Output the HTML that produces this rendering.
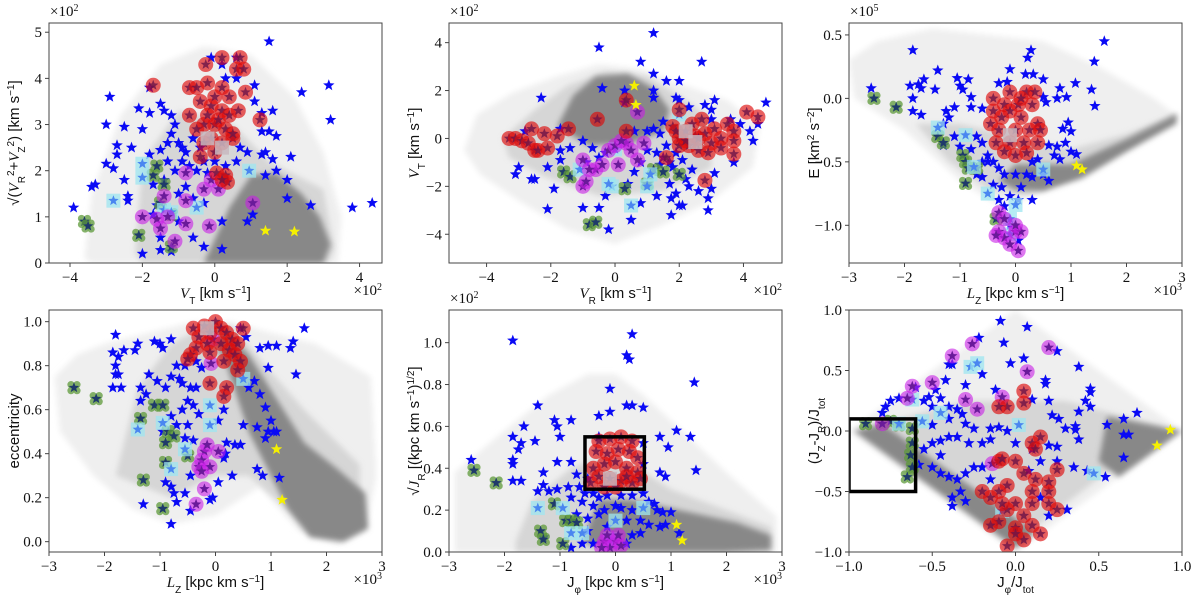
<!DOCTYPE html>
<html><head><meta charset="utf-8"><style>
html,body{margin:0;padding:0;background:#fff;}
svg{display:block;}
text{font-family:"Liberation Serif",serif;fill:#111;}
.s{font-family:"Liberation Sans",sans-serif;}
</style></head><body>
<svg id="fig" width="1200" height="595" viewBox="0 0 1200 595" xmlns="http://www.w3.org/2000/svg">
<defs><filter id="blur" x="-10%" y="-10%" width="120%" height="120%"><feGaussianBlur stdDeviation="3"/></filter></defs>
</svg>
<script>
// ---------- DATA ----------
// Panel 1: VT vs sqrt(VR^2+VZ^2)  (units of 100 km/s)
const p1Halo=[[-3.6,0.1],[-3.4,1.5],[-2.6,3.2],[-1.5,4.3],[-0.3,4.7],[1,4.5],[2.2,3.6],[3,2.4],[3.5,1],[3.4,0],[-3.4,0]];
const p1Mid=[[-2.2,0.2],[-2.0,2.2],[-1,3.3],[0.5,3.0],[1.5,2.2],[3,1.6],[3.3,0.3],[3.1,0],[-2,0]];
const p1Core=[[-0.3,0],[0.4,1.2],[1.0,1.9],[1.7,1.95],[2.4,1.5],[2.9,1.0],[3.2,0.4],[3.0,0]];
const p1Core2=[];
const p1Blue=[[1.5,4.8],[-2.9,3.6],[-3,3.0],[-2.5,2.95],[-2.1,3.35],[-1.8,3.25],[-1.5,3.45],[-1.4,3.3],[-2.0,2.9],[-2.7,2.55],[-2.7,2.35],[-2.3,2.5],[-3.0,2.15],[-2.8,2.05],[-2.5,1.8],[-3.3,1.7],[-3.4,1.65],[-2.4,1.45],[-2.4,1.35],[-3.9,1.2],[-1.2,3.2],[-1.1,3.0],[-1.2,2.8],[-1.0,2.6],[-0.9,2.5],[-1.5,2.45],[-1.8,2.35],[-1.3,2.2],[-0.9,2.2],[-0.7,2.1],[-1.1,2.0],[-0.5,2.0],[-0.3,2.2],[0.3,2.1],[0.6,2.2],[-1.4,1.8],[-1.7,1.7],[-0.8,1.65],[-1.0,1.5],[-0.6,1.4],[-0.3,1.3],[-1.6,1.25],[-1.7,1.05],[-1.0,0.9],[-0.6,0.55],[-1.5,0.55],[-1.5,0.28],[-2.0,0.2],[-1.2,0.25],[-0.3,0.35],[0.2,0.3],[0.2,0.9],[0.9,0.9],[1.05,1.05],[0.7,2.5],[0.9,2.4],[1.3,2.35],[1.4,2.4],[1.6,2.25],[1.7,2.0],[1.4,1.9],[2.0,1.8],[2.1,2.3],[2.0,1.4],[1.3,2.85],[1.5,2.85],[1.7,2.75],[1.6,3.3],[1.3,3.25],[1.1,3.5],[1.1,3.85],[0.6,4.45],[0.2,4.3],[-0.1,4.45],[0.3,4.0],[0.6,4.0],[2.4,3.7],[3.15,3.85],[3.2,3.1],[2.65,1.25],[3.8,1.2],[4.35,1.3],[-1.8,3.8],[-0.8,2.4],[-0.4,2.5],[-0.6,2.7],[-1.3,2.6],[0.0,2.2],[-0.2,1.95]];
const p1Red=[[-0.7,3.8],[-0.5,3.8],[-0.2,3.9],[0.2,3.8],[0.4,3.6],[-0.4,3.5],[-0.1,3.4],[0.2,3.3],[0.4,3.2],[-0.3,3.0],[0,3.0],[0.3,2.9],[-0.5,2.9],[-0.1,2.7],[0.2,2.6],[0.5,2.7],[-0.3,2.6],[0,3.6],[0.1,3.1],[-0.2,3.2],[-0.25,4.3],[0.2,4.45],[0.7,4.45],[0.6,4.2],[0.8,4.2],[-1.7,3.85],[0.85,3.7],[0.65,3.3],[1.25,3.1],[-0.7,3.2],[0.05,1.95],[0.3,1.9],[0.35,1.75],[0.2,1.8],[0.5,2.8],[-0.4,2.3],[0,2.4]];
const p1Mag=[[-0.8,1.95],[-0.1,1.8],[-0.3,1.6],[0.1,1.6],[-1.4,1.45],[-0.8,1.35],[1.05,1.3],[-2.0,1.0],[-1.6,0.95],[-1.5,0.75],[-0.8,0.85],[-0.15,0.8],[-1.1,0.47],[-1.3,1.0]];
const p1Green=[[-1.7,1.9],[-1.6,2.1],[-1.4,1.7],[-3.6,0.9],[-3.5,0.8],[-2.1,0.6],[-1.2,0.35],[-1.5,1.3],[-1.2,1.05]];
const p1Cyan=[[-2.0,2.15],[-2.0,1.85],[-2.8,1.35],[-1.4,1.15],[-1.2,1.1],[-0.5,1.2],[0.95,2.0]];
const p1Light=[[-0.2,2.7],[0.2,2.5]];
const p1Yellow=[[1.4,0.7],[2.2,0.68]];

// Panel 2: VR vs VT (units of 100 km/s)
const p2Halo=[[-4.7,-0.5],[-4.3,1.0],[-3.2,1.9],[-1.8,2.6],[-0.5,3.1],[0.8,2.9],[2,2.3],[3.5,1.6],[4.5,0.5],[4.3,-1.2],[3,-2.6],[1.5,-3.6],[0,-4.4],[-1.5,-3.8],[-3,-2.6],[-4.2,-1.5]];
const p2Mid=[[-3.5,0],[-2.5,1.2],[-1.5,2.2],[-0.3,2.8],[1,2.6],[2,1.8],[3,0.8],[3,-1.2],[1.5,-2.2],[-0.5,-2.4],[-2.2,-1.6],[-3.3,-0.8]];
const p2Core=[[-1.8,0.5],[-1.3,1.8],[-0.6,2.6],[0.4,2.7],[1.2,2.1],[1.7,1.2],[1.5,0.3],[0.5,-0.2],[-0.8,-0.3]];
const p2Core2=[];
const p2Blue=[[1.2,4.4],[-0.5,3.8],[0.8,3.2],[2.7,3.2],[1.2,2.7],[-0.4,2.1],[0.3,2.0],[1.2,2.0],[-2.3,1.7],[1.2,1.7],[0.3,1.5],[1.6,2.4],[2.0,2.4],[1.9,1.7],[2.0,1.6],[2.3,1.3],[2.8,1.4],[3.0,1.2],[3.1,1.6],[3.0,0.8],[3.6,0.8],[3.9,0.6],[4.2,0.3],[4.3,-0.1],[4.45,0.6],[4.7,1.5],[3.7,-1.0],[3.1,-1.45],[3.0,-2.1],[2.9,-2.5],[2.9,-3.0],[2.6,-2.2],[2.3,-2.0],[1.9,-2.3],[2.0,-2.8],[1.75,-2.5],[1.75,-3.2],[2.1,-2.8],[1.3,-2.4],[0.8,-2.7],[0.5,-3.4],[-0.2,-3.8],[-0.3,-2.4],[-0.5,-2.9],[-1.0,-2.9],[-2.1,-2.95],[-1.9,-2.1],[-2.5,-1.7],[-2.6,-1.7],[-3.0,-1.2],[-3.1,-1.5],[-2.1,-1.2],[-1.7,-0.9],[-1.7,-0.5],[-1.4,-0.4],[-1.0,-0.1],[-0.7,-0.4],[-0.5,-0.8],[-0.3,-0.6],[-0.9,-1.0],[0.6,-1.4],[0.4,-1.9],[1.0,-0.5],[1.3,-0.6],[1.5,-0.8],[1.7,-1.0],[1.8,-1.2],[1.6,-0.3],[1.4,0.2],[1.2,0.4],[1.5,0.7],[2.2,-1.7],[1.7,-1.9],[1.0,0.3],[0.6,0.3],[0.8,-1.0],[2.4,-1.3],[-1.7,0.4],[-2.8,0.3],[1.9,-0.6],[2.1,-0.9],[1.4,-1.1]];
const p2Red=[[-3.3,0],[-3.1,0],[-2.9,-0.1],[-2.7,-0.2],[-2.5,-0.5],[-2.4,-0.5],[-2.6,0.4],[-2.2,0.2],[-2.1,-0.4],[-1.8,0.1],[-1.45,0.4],[-0.55,0.8],[0.35,1.6],[0.35,0.3],[1.8,0.5],[2.0,0.0],[2.2,0.3],[2.3,-0.3],[2.5,0.1],[2.6,-0.5],[2.7,0.8],[2.8,0.2],[3.0,-0.2],[3.1,0.4],[3.3,0.0],[3.5,0.6],[3.7,0.3],[3.7,-0.1],[3.7,-0.65],[2.9,-0.6],[2.0,1.2],[2.0,-0.3],[2.4,0.6],[4.1,1.1],[4.45,0.9],[2.8,-1.75],[1.6,-0.8],[3.3,-0.4],[1.9,0.3],[2.6,0.0],[2.2,-0.1]];
const p2Mag=[[-1.0,-0.9],[-0.6,-1.3],[-0.4,-1.1],[-0.2,-0.5],[0.0,-0.3],[0.1,-1.1],[0.35,-0.2],[0.5,-0.5],[0.7,-0.9],[0.9,-0.2],[0.7,1.1],[-0.8,-1.3],[-1.0,-2.0],[-0.9,-1.8],[0.2,-0.1]];
const p2Green=[[-1.6,-1.4],[-1.4,-1.6],[-0.8,-3.6],[-0.6,-3.5],[0.3,-2.1],[1.0,-1.9],[1.5,-1.4],[2.0,-1.5],[1.2,-1.3]];
const p2Cyan=[[-1.1,-1.3],[0.0,-0.45],[-0.1,-2.0],[0.5,-2.8],[1.1,-1.5],[1.0,-2.0],[2.0,1.0],[2.5,-0.2],[-0.2,-1.9]];
const p2Light=[[2.2,0.3],[2.5,-0.15]];
const p2Yellow=[[0.6,2.2],[0.65,1.4]];

// Panel 3: Lz (1e3) vs E (1e5)
const p3Halo=[[-3,0.3],[-2.5,0.45],[-1.5,0.55],[-0.5,0.5],[0.5,0.45],[1.5,0.25],[2.5,0.0],[2.95,-0.15],[2.0,-0.3],[1.0,-0.6],[0.3,-0.78],[-0.3,-0.85],[-1.0,-0.65],[-2.0,-0.25],[-2.9,0.0]];
const p3Mid=[[-1.8,-0.2],[-1.0,-0.2],[0,-0.3],[1,-0.4],[2,-0.28],[2.9,-0.13],[2.0,-0.38],[1.0,-0.62],[0.2,-0.76],[-0.5,-0.72],[-1.2,-0.5]];
const p3Core=[[0.0,-0.52],[1.0,-0.52],[2.0,-0.32],[2.9,-0.12],[2.9,-0.2],[2.0,-0.42],[1.2,-0.63],[0.5,-0.73],[0,-0.72],[-0.3,-0.65]];
const p3Core2=[];
const p3Blue=[[1.6,0.45],[-1.85,0.38],[0.28,0.38],[0.22,0.32],[1.42,0.29],[-1.4,0.22],[-0.1,0.23],[0.18,0.19],[0.32,0.19],[-1.05,0.16],[-0.85,0.15],[-1.65,0.15],[-0.3,0.12],[-0.15,0.13],[0.5,0.15],[1.08,0.12],[-1.9,0.1],[-1.75,0.11],[-1.7,0.08],[-1.45,0.07],[-1.0,0.1],[-0.95,0.07],[0.8,0.08],[1.37,0.07],[-2.6,0.08],[-1.85,0.0],[-0.8,0.01],[0.5,0.01],[0.55,-0.03],[0.92,0.01],[0.75,0.0],[-1.85,-0.1],[-1.7,-0.13],[-1.25,-0.1],[-1.1,-0.07],[-0.8,-0.07],[-0.6,-0.08],[1.43,-0.06],[-1.2,-0.15],[-1.3,-0.2],[-1.1,-0.3],[-1.3,-0.37],[-1.0,-0.38],[-0.7,-0.3],[-0.6,-0.35],[-0.5,-0.45],[-0.8,-0.4],[-0.5,-0.5],[-0.3,-0.55],[-0.6,-0.62],[-0.4,-0.68],[-0.25,-0.7],[-0.3,-0.8],[-0.2,-0.85],[-0.1,-0.77],[0.05,-0.8],[0.3,-0.8],[0.1,-0.7],[0.3,-0.62],[0.5,-0.6],[0.6,-0.65],[0.7,-0.45],[0.8,-0.48],[0.6,-0.37],[0.9,-0.35],[0.75,-0.38],[1.0,-0.42],[1.1,-0.44],[0.85,-0.24],[0.95,-0.19],[1.0,-0.26],[-0.2,-0.6],[0.2,-0.6],[0.0,-0.6],[-0.1,-1.0],[0.05,-1.12],[0.4,-0.48],[0.3,-0.5],[-0.4,-0.5],[-0.6,-0.5],[-0.7,-0.6]];
const p3Red=[[-0.4,0],[-0.2,-0.05],[0.2,0.05],[0.35,0.05],[0.3,-0.05],[-0.4,-0.1],[-0.1,-0.1],[0.1,-0.15],[0.4,-0.2],[-0.45,-0.2],[-0.3,-0.25],[0,-0.25],[0.25,-0.25],[0.45,-0.25],[-0.35,-0.35],[-0.1,-0.35],[0.15,-0.35],[0.4,-0.35],[-0.2,-0.42],[0.0,-0.45],[0.2,-0.43],[-0.1,0.05],[0.05,-0.05],[-0.25,-0.15],[0.1,0.0]];
const p3Mag=[[-0.3,-0.9],[-0.2,-0.95],[-0.3,-1.05],[0.0,-1.05],[0.1,-1.05],[-0.2,-1.1],[0.0,-1.0],[0.05,-1.2],[-0.1,-1.15],[-0.35,-1.08]];
const p3Green=[[-2.55,0.0],[-2.15,-0.07],[-1.4,-0.3],[-1.3,-0.35],[-0.95,-0.45],[-0.9,-0.5],[-0.85,-0.55],[-0.9,-0.67],[-0.35,-0.95],[-0.7,-0.55]];
const p3Cyan=[[-1.4,-0.23],[-0.9,-0.29],[-0.75,-0.54],[0.5,-0.56],[-0.5,-0.75],[0.0,-0.84],[-0.1,-0.95],[-0.1,-1.07]];
const p3Light=[[-0.1,-0.29]];
const p3Yellow=[[1.1,-0.53],[1.2,-0.56]];

// Panel 4: Lz (1e3) vs eccentricity
const p4Halo=[[-2.9,0.75],[-2.5,0.85],[-2,0.9],[-1.2,0.95],[-0.4,1.0],[0.3,1.0],[1,0.95],[1.8,0.9],[2.8,0.75],[2.9,0.3],[2.7,0.05],[2.2,-0.01],[1.5,0.05],[0.8,0.25],[0,0.12],[-0.8,0.08],[-1.5,0.15],[-2.2,0.3],[-2.8,0.5]];
const p4Mid=[[-1.8,0.3],[-1.4,0.7],[-0.8,0.9],[-0.2,0.98],[0.3,0.98],[0.9,0.8],[1.6,0.6],[2.6,0.35],[2.6,0.1],[1.5,0.1],[0.6,0.3],[0,0.3],[-0.8,0.2]];
const p4Core=[[0.2,0.95],[0.6,0.85],[1.1,0.65],[1.6,0.45],[2.2,0.33],[2.7,0.22],[2.75,0.06],[2.3,0.0],[1.7,0.02],[1.3,0.15],[1.0,0.3],[0.6,0.5],[0.4,0.65],[0.2,0.8],[0,0.9]];
const p4Core2=[];
const p4Blue=[[1.6,0.97],[0.45,0.97],[0.1,0.97],[-1.8,0.94],[0.55,0.93],[-1.1,0.91],[-1.0,0.9],[-0.8,0.92],[-1.4,0.9],[-0.95,0.88],[-1.65,0.87],[-1.85,0.86],[-1.75,0.84],[-1.45,0.87],[0.8,0.88],[0.95,0.89],[1.1,0.89],[1.35,0.88],[1.4,0.91],[-1.8,0.8],[-1.8,0.76],[-1.75,0.76],[-0.7,0.8],[-0.55,0.8],[-0.35,0.82],[-0.25,0.79],[-1.2,0.76],[-1.05,0.73],[-0.8,0.75],[-0.65,0.74],[-0.6,0.72],[1.45,0.76],[0.95,0.79],[0.7,0.73],[-1.7,0.7],[-1.85,0.7],[-1.35,0.7],[-0.45,0.7],[-0.35,0.7],[0.6,0.7],[0.8,0.67],[-1.25,0.67],[-1.35,0.64],[-0.9,0.7],[-0.5,0.64],[-0.4,0.62],[0.9,0.61],[0.15,0.6],[-0.8,0.57],[-0.6,0.6],[-0.3,0.58],[-0.7,0.53],[-0.5,0.53],[0.5,0.53],[0.75,0.52],[1.0,0.55],[0.05,0.55],[0.95,0.5],[1.05,0.5],[1.1,0.5],[0.9,0.47],[-0.95,0.5],[-0.55,0.47],[-0.4,0.46],[0.2,0.45],[0.35,0.44],[0.45,0.44],[0.18,0.4],[0.15,0.38],[-0.45,0.3],[0.05,0.27],[-0.9,0.27],[-0.8,0.25],[-0.75,0.22],[-0.55,0.22],[-0.7,0.18],[-0.1,0.19],[-0.05,0.2],[-1.3,0.17],[-0.45,0.14],[-0.8,0.08],[0.75,0.33],[0.85,0.3],[1.15,0.29],[0.3,0.3]];
const p4Red=[[-0.4,0.97],[-0.3,0.93],[-0.2,0.98],[-0.1,0.95],[0,1.0],[0.1,0.97],[0.2,0.95],[0.3,0.92],[0.4,0.9],[-0.35,0.88],[-0.15,0.9],[0.1,0.9],[0.25,0.87],[0.35,0.85],[-0.45,0.85],[-0.5,0.83],[0.15,0.82],[0.45,0.82],[0.4,0.78],[-0.1,0.86],[-0.1,0.72],[0.2,0.7],[0.15,0.66],[0.5,0.97]];
const p4Mag=[[-0.05,0.92],[-0.08,0.81],[-0.2,0.41],[0.05,0.41],[-0.25,0.37],[-0.3,0.34],[-0.1,0.34],[-0.25,0.32],[-0.2,0.24],[-0.35,0.17],[-0.15,0.44]];
const p4Green=[[-2.55,0.7],[-2.15,0.65],[-1.1,0.62],[-0.95,0.62],[-1.35,0.56],[-0.85,0.5],[-0.75,0.48],[-0.9,0.45],[-0.9,0.36],[-1.3,0.28],[-0.95,0.15],[-0.5,0.39]];
const p4Cyan=[[-1.4,0.51],[-0.95,0.54],[-0.8,0.33],[-0.55,0.42],[0.5,0.74],[-0.1,0.62],[-0.1,0.53],[-0.05,0.97]];
const p4Light=[[-0.15,0.97]];
const p4Yellow=[[1.1,0.42],[1.2,0.19]];

// Panel 5: Jphi (1e3) vs sqrt(JR) (1e2)
const p5Halo=[[-2.9,0.38],[-2,0.58],[-1.2,0.75],[-0.5,0.85],[0,0.85],[0.5,0.75],[1.2,0.58],[2,0.38],[2.9,0.17],[2.9,0.0],[-2.9,0.0]];
const p5Mid=[[-1.8,0.05],[-1.5,0.25],[-0.8,0.4],[-0.3,0.45],[0.3,0.42],[1.0,0.3],[2.0,0.2],[2.8,0.12],[2.8,0.0],[-1.8,0.0]];
const p5Core=[[-0.3,0.25],[0.3,0.25],[0.8,0.22],[1.5,0.18],[2.2,0.14],[2.8,0.08],[2.8,0.01],[2,0.0],[1,0],[0,0.0],[-0.6,0.05]];
const p5Core2=[];
const p5Box=[[-0.55,0.3],[0.52,0.55]];
const p5Blue=[[-1.85,1.01],[0.3,1.04],[0.2,0.94],[0.25,0.92],[1.42,0.81],[-0.1,0.78],[-1.4,0.7],[0.2,0.7],[0.3,0.7],[0.5,0.69],[-0.1,0.67],[-0.3,0.65],[-1.65,0.6],[-1.1,0.63],[-1.05,0.6],[-0.8,0.63],[-1.85,0.55],[-1.0,0.55],[-0.3,0.55],[-1.7,0.52],[-1.45,0.53],[-1.75,0.49],[0.8,0.55],[0.95,0.5],[1.1,0.58],[1.35,0.55],[0.5,0.52],[-1.85,0.44],[-1.85,0.42],[-0.8,0.43],[-1.05,0.43],[-2.6,0.44],[-1.3,0.38],[-1.85,0.34],[-1.7,0.34],[-0.7,0.37],[-0.5,0.35],[0.8,0.38],[0.9,0.36],[1.45,0.39],[0.5,0.42],[-1.3,0.32],[-1.4,0.29],[-1.2,0.29],[-1.05,0.3],[-0.85,0.31],[-0.65,0.31],[-0.55,0.28],[-0.4,0.28],[-0.8,0.26],[-0.6,0.24],[-0.3,0.26],[-0.15,0.27],[0.1,0.27],[0.3,0.27],[0.5,0.28],[0.6,0.24],[-0.4,0.22],[-0.2,0.2],[0.1,0.21],[0.3,0.2],[0.75,0.2],[0.7,0.23],[0.85,0.19],[1.0,0.19],[0.9,0.13],[-0.7,0.18],[-0.5,0.16],[0.2,0.15],[0.45,0.15],[0.6,0.13],[0.8,0.12],[0.3,0.08],[0.45,0.09],[1.15,0.09],[-0.6,0.04],[-0.4,0.04],[-0.8,0.02],[0.2,0.04],[-1.3,0.07],[-0.15,0.12],[-0.3,0.18],[0.0,0.22],[-0.5,0.1]];
const p5Red=[[-0.3,0.53],[-0.1,0.54],[0.1,0.55],[0.3,0.53],[-0.35,0.48],[-0.15,0.47],[0.05,0.49],[0.25,0.48],[0.4,0.45],[-0.4,0.4],[-0.2,0.42],[0,0.43],[0.2,0.4],[0.4,0.38],[-0.3,0.36],[-0.1,0.35],[0.1,0.34],[0.3,0.33],[-0.45,0.33],[0,0.31],[0.2,0.36],[-0.2,0.31],[0.45,0.35]];
const p5Mag=[[-0.2,0.05],[0,0.05],[-0.1,0.02],[0.1,0.03],[-0.25,0.02],[0.05,0.08],[-0.15,0.08]];
const p5Green=[[-2.55,0.39],[-2.15,0.33],[-1.1,0.23],[-1.35,0.1],[-0.95,0.04],[-0.9,0.15],[-0.8,0.15],[-0.7,0.14],[-1.3,0.06]];
const p5Cyan=[[-1.4,0.21],[-0.95,0.21],[-0.8,0.09],[-0.6,0.09],[0.0,0.15],[0.5,0.21],[-0.1,0.06]];
const p5Light=[[-0.1,0.35]];
const p5Yellow=[[1.1,0.13],[1.2,0.055]];

// Panel 6: Jphi/Jtot vs (Jz-Jr)/Jtot
const p6Halo=[[-1,0],[0,1],[1,0],[0,-1]];
const p6Mid=[[-0.92,0.02],[-0.3,0.25],[0.3,0.25],[0.9,0.03],[0,-0.92]];
const p6Core=[[-0.97,0.0],[0,-0.97],[0.12,-0.84],[-0.8,0.06]];
const p6Core2=[[0.55,0.12],[1,0],[0.62,-0.38],[0.5,-0.25]];
const p6Box=[[-1,-0.5],[-0.6,0.1]];
const p6Blue=[[-0.09,0.91],[0.07,0.86],[-0.22,0.77],[-0.07,0.73],[0.25,0.66],[0.05,0.6],[-0.03,0.56],[-0.4,0.55],[-0.38,0.55],[0.38,0.53],[-0.2,0.47],[0.18,0.42],[0.18,0.39],[-0.42,0.42],[-0.3,0.38],[-0.12,0.34],[0.45,0.35],[0.45,0.32],[-0.6,0.36],[-0.48,0.34],[-0.7,0.27],[-0.75,0.25],[-0.78,0.2],[-0.8,0.15],[-0.52,0.28],[-0.45,0.27],[-0.55,0.25],[-0.5,0.2],[-0.4,0.2],[-0.35,0.18],[-0.32,0.14],[0.1,0.26],[0.2,0.25],[0.42,0.25],[0.45,0.2],[0.22,0.13],[0.26,0.1],[0.38,0.16],[0.36,0.04],[0.36,0.01],[0.3,0.02],[0.55,0.05],[0.65,0.1],[0.73,0.15],[0.65,-0.03],[0.68,-0.03],[0.65,-0.22],[0.54,-0.38],[0.43,-0.33],[0.38,-0.07],[-0.3,0.06],[-0.25,0.02],[-0.15,0.02],[-0.1,0.03],[-0.15,-0.07],[-0.2,-0.1],[-0.28,-0.1],[-0.35,-0.05],[-0.4,-0.05],[-0.45,-0.08],[-0.5,-0.1],[-0.55,-0.15],[-0.58,-0.28],[-0.5,-0.3],[-0.45,-0.35],[-0.4,-0.38],[-0.35,-0.4],[-0.3,-0.35],[-0.25,-0.3],[-0.2,-0.3],[-0.33,-0.5],[-0.38,-0.55],[-0.3,-0.58],[-0.45,-0.2],[0.1,-0.15],[0.2,-0.12],[0.25,-0.13],[0.15,-0.25],[0.25,-0.25],[0.35,-0.3],[0.31,-0.65],[0.2,-0.7],[0.15,-0.55],[-0.38,-0.62],[-0.15,-0.4],[0.08,-0.33],[0.0,-0.1],[-0.05,0.0],[-0.4,0.1],[-0.5,0.05]];
const p6Red=[[-0.1,-0.25],[-0.08,-0.23],[0.1,-0.1],[0.12,-0.15],[0.0,-0.25],[0.15,-0.05],[0.25,-0.32],[0.05,-0.35],[-0.05,-0.45],[-0.1,-0.5],[0.1,-0.5],[0.2,-0.5],[-0.15,-0.55],[0.0,-0.6],[0.1,-0.6],[0.2,-0.6],[0.25,-0.65],[-0.05,-0.65],[0.05,-0.7],[-0.1,-0.75],[0.0,-0.8],[0.1,-0.78],[-0.15,-0.78],[0.05,-0.9],[-0.05,-0.95],[0.0,-0.85],[0.15,-0.85],[-0.2,-0.5],[0.2,-0.42],[0.05,0.33],[0.05,0.23],[-0.05,0.2],[-0.1,0.2],[0.12,-0.4],[-0.08,-0.6]];
const p6Mag=[[-0.26,0.72],[-0.38,0.62],[0.2,0.69],[0.07,0.49],[-0.5,0.4],[-0.62,0.37],[-0.65,0.27],[-0.3,0.26],[-0.23,0.18],[-0.08,0.28],[-0.8,0.06],[-0.14,-0.27]];
const p6Green=[[-0.9,0.06],[-0.8,0.06],[-0.7,0.05],[-0.62,0.02],[-0.62,-0.1],[-0.63,-0.2],[-0.62,-0.3],[-0.65,-0.38],[-0.75,0.08]];
const p6Cyan=[[-0.27,0.53],[-0.23,0.56],[-0.62,0.26],[-0.45,0.15],[-0.56,0.08],[-0.7,0.06],[0.02,0.05],[0.47,-0.35],[-0.08,-0.66]];
const p6Light=[];
const p6Yellow=[[0.93,0.01],[0.85,-0.12]];

// tick values
const p1XTicks=[-4,-2,0,2,4], p1YTicks=[0,1,2,3,4,5];
const p2XTicks=[-4,-2,0,2,4], p2YTicks=[-4,-2,0,2,4];
const p3XTicks=[-3,-2,-1,0,1,2,3], p3YTicks=[0.5,0,-0.5,-1.0];
const p4XTicks=[-3,-2,-1,0,1,2,3], p4YTicks=[0,0.2,0.4,0.6,0.8,1.0];
const p5XTicks=[-3,-2,-1,0,1,2,3], p5YTicks=[0,0.2,0.4,0.6,0.8,1.0];
const p6XTicks=[-1,-0.5,0,0.5,1], p6YTicks=[-1,-0.5,0,0.5,1];

// ---------- DRAW ----------
const NS="http://www.w3.org/2000/svg";
const svg=document.getElementById('fig');
function el(tag,attrs,parent){const e=document.createElementNS(NS,tag);for(const k in attrs)e.setAttribute(k,attrs[k]);(parent||svg).appendChild(e);return e;}
function fmt(v,dec){let s=v.toFixed(dec);return s.replace('-','\u2212');}
function starPts(cx,cy,R){const r=R*0.42;let p=[];for(let i=0;i<10;i++){const a=-Math.PI/2+i*Math.PI/5;const rr=i%2?r:R;p.push((cx+rr*Math.cos(a)).toFixed(1)+','+(cy+rr*Math.sin(a)).toFixed(1));}return p.join(' ');}

function panel(cfg){
  const g=el('g',{});
  
  
  const X=v=>cfg.px[0]+(v-cfg.xr[0])/(cfg.xr[1]-cfg.xr[0])*(cfg.px[1]-cfg.px[0]);
  const Y=v=>cfg.py[1]-(v-cfg.yr[0])/(cfg.yr[1]-cfg.yr[0])*(cfg.py[1]-cfg.py[0]);
  const clipId='c'+cfg.name;
  const cp=el('clipPath',{id:clipId},g);
  el('rect',{x:cfg.px[0],y:cfg.py[0],width:cfg.px[1]-cfg.px[0],height:cfg.py[1]-cfg.py[0]},cp);
  const inner=el('g',{'clip-path':'url(#'+clipId+')'},g);
  const poly=(pts,fill,op,name)=>{if(!pts.length)return;const p=el('polygon',{points:pts.map(q=>X(q[0]).toFixed(1)+','+Y(q[1]).toFixed(1)).join(' '),fill:fill,opacity:op,filter:'url(#blur)'},inner);
    
    };
  poly(cfg.halo,'#efefef',1,'background-halo');
  poly(cfg.mid,'#d2d2d2',0.85,'background-density');
  poly(cfg.core,'#888888',1,'background-core');
  poly(cfg.core2,'#888888',1,'background-core');
  cfg.blue.forEach(q=>{const s=el('polygon',{points:starPts(X(q[0]),Y(q[1]),6),fill:'#0a0af5'},inner);
    
    });
  cfg.green.forEach(q=>{const cx=X(q[0]),cy=Y(q[1]);const gg=el('g',{},inner);
    
    
    [[-3,-3],[3,-3],[-3,3],[3,3]].forEach(d=>el('circle',{cx:cx+d[0],cy:cy+d[1],r:3.6,fill:'#5e9a3a',opacity:0.75},gg));
    el('polygon',{points:starPts(cx,cy,5.5),fill:'#1f3a6a'},gg);});
  cfg.cyan.forEach(q=>{const cx=X(q[0]),cy=Y(q[1]);const gg=el('g',{},inner);
    
    
    el('rect',{x:cx-7,y:cy-7,width:14,height:14,fill:'#9ee6f0',opacity:0.75},gg);
    el('polygon',{points:starPts(cx,cy,5.5),fill:'#4a86f0'},gg);});
  cfg.mag.forEach(q=>{const cx=X(q[0]),cy=Y(q[1]);const gg=el('g',{},inner);
    
    
    el('circle',{cx:cx,cy:cy,r:7.5,fill:'#c81ee6',opacity:0.6},gg);
    el('polygon',{points:starPts(cx,cy,5.5),fill:'#6a1a9a'},gg);});
  cfg.red.forEach(q=>{const cx=X(q[0]),cy=Y(q[1]);const gg=el('g',{},inner);
    
    
    el('circle',{cx:cx,cy:cy,r:7.5,fill:'#dd0a0a',opacity:0.65},gg);
    el('polygon',{points:starPts(cx,cy,5.5),fill:'#6a1448',opacity:0.8},gg);});
  cfg.light.forEach(q=>{const r=el('rect',{x:X(q[0])-7,y:Y(q[1])-7,width:14,height:14,fill:'#c8b8c0',opacity:0.85},inner);
    
    });
  cfg.yellow.forEach(q=>{const s=el('polygon',{points:starPts(X(q[0]),Y(q[1]),6),fill:'#f5f000'},inner);
    
    });
  if(cfg.box){const b=cfg.box;const r=el('rect',{x:X(b[0][0]),y:Y(b[1][1]),width:X(b[1][0])-X(b[0][0]),height:Y(b[0][1])-Y(b[1][1]),fill:'none',stroke:'#000','stroke-width':3.5},inner);
    
    }
  const fr=el('rect',{x:cfg.px[0],y:cfg.py[0],width:cfg.px[1]-cfg.px[0],height:cfg.py[1]-cfg.py[0],fill:'none',stroke:'#444','stroke-width':1},g);
  
  
  cfg.xt.forEach(v=>{const x=X(v);el('line',{x1:x,x2:x,y1:cfg.py[1],y2:cfg.py[1]+4,stroke:'#444'},g);
    const t=el('text',{x:x,y:cfg.py[1]+19,'text-anchor':'middle','font-size':15},g);t.textContent=fmt(v,cfg.xd);
    
    });
  cfg.yt.forEach(v=>{const y=Y(v);el('line',{x1:cfg.px[0]-4,x2:cfg.px[0],y1:y,y2:y,stroke:'#444'},g);
    const t=el('text',{x:cfg.px[0]-7,y:y+5,'text-anchor':'end','font-size':15},g);t.textContent=fmt(v,cfg.yd);
    
    });
  const xl=el('text',{x:(cfg.px[0]+cfg.px[1])/2,y:cfg.py[1]+35,'text-anchor':'middle','font-size':15,class:'s'},g);
  xl.innerHTML=cfg.xlab;
  
  
  const yx=cfg.px[0]-30,yy=(cfg.py[0]+cfg.py[1])/2;
  const yl=el('text',{x:yx,y:yy,'text-anchor':'middle','font-size':15,class:'s',transform:'rotate(-90 '+yx+' '+yy+')'},g);
  yl.innerHTML=cfg.ylab;
  
  
  if(cfg.topMul){const t=el('text',{x:cfg.px[0]+1,y:cfg.py[0]-7,'font-size':15},g);t.innerHTML=cfg.topMul;
    
    }
  if(cfg.botMul){const t=el('text',{x:cfg.px[1],y:cfg.py[1]+32,'text-anchor':'end','font-size':15},g);t.innerHTML=cfg.botMul;
    
    }
}
const sup=s=>'<tspan baseline-shift="super" font-size="10">'+s+'</tspan>';
const sub=s=>'<tspan baseline-shift="sub" font-size="10">'+s+'</tspan>';
const it=s=>'<tspan font-style="italic" font-family="Liberation Serif">'+s+'</tspan>';
const kms=' [km s'+sup('\u22121')+']';
const kpc=' [kpc km s'+sup('\u22121')+']';
panel({name:'panel-vt-vperp',px:[49,382],py:[23,263],xr:[-4.58,4.62],yr:[0,5.2],xt:p1XTicks,yt:p1YTicks,xd:0,yd:0,
 halo:p1Halo,mid:p1Mid,core:p1Core,core2:p1Core2,blue:p1Blue,red:p1Red,mag:p1Mag,green:p1Green,cyan:p1Cyan,light:p1Light,yellow:p1Yellow,
 xlab:it('V')+sub('T')+kms,
 ylab:'\u221A('+it('V')+sub('R')+sup('2')+'+'+it('V')+sub('Z')+sup('2')+')'+kms,
 topMul:'\u00D710'+sup('2'),botMul:'\u00D710'+sup('2')});
panel({name:'panel-vr-vt',px:[449,782],py:[23,263],xr:[-5.17,5.2],yr:[-5.2,4.82],xt:p2XTicks,yt:p2YTicks,xd:0,yd:0,
 halo:p2Halo,mid:p2Mid,core:p2Core,core2:p2Core2,blue:p2Blue,red:p2Red,mag:p2Mag,green:p2Green,cyan:p2Cyan,light:p2Light,yellow:p2Yellow,
 xlab:it('V')+sub('R')+kms,
 ylab:it('V')+sub('T')+kms,
 topMul:'\u00D710'+sup('2'),botMul:'\u00D710'+sup('2')});
panel({name:'panel-lz-energy',px:[849,1182],py:[23,263],xr:[-3,3],yr:[-1.297,0.594],xt:p3XTicks,yt:p3YTicks,xd:0,yd:1,
 halo:p3Halo,mid:p3Mid,core:p3Core,core2:p3Core2,blue:p3Blue,red:p3Red,mag:p3Mag,green:p3Green,cyan:p3Cyan,light:p3Light,yellow:p3Yellow,
 xlab:it('L')+sub('Z')+kpc,
 ylab:'E [km'+sup('2')+' s'+sup('\u22122')+']',
 topMul:'\u00D710'+sup('5'),botMul:'\u00D710'+sup('3')});
panel({name:'panel-lz-eccentricity',px:[49,382],py:[310,552],xr:[-3,3],yr:[-0.047,1.053],xt:p4XTicks,yt:p4YTicks,xd:0,yd:1,
 halo:p4Halo,mid:p4Mid,core:p4Core,core2:p4Core2,blue:p4Blue,red:p4Red,mag:p4Mag,green:p4Green,cyan:p4Cyan,light:p4Light,yellow:p4Yellow,
 xlab:it('L')+sub('Z')+kpc,
 ylab:'eccentricity',botMul:'\u00D710'+sup('3')});
panel({name:'panel-jphi-sqrtjr',px:[449,782],py:[310,552],xr:[-3,3],yr:[0,1.156],xt:p5XTicks,yt:p5YTicks,xd:0,yd:1,box:p5Box,
 halo:p5Halo,mid:p5Mid,core:p5Core,core2:p5Core2,blue:p5Blue,red:p5Red,mag:p5Mag,green:p5Green,cyan:p5Cyan,light:p5Light,yellow:p5Yellow,
 xlab:'J'+sub('\u03C6')+kpc,
 ylab:'\u221A'+it('J')+sub('R')+' [(kpc km s'+sup('\u22121')+')'+sup('1/2')+']',
 topMul:'\u00D710'+sup('2'),botMul:'\u00D710'+sup('3')});
panel({name:'panel-action-diamond',px:[849,1182],py:[310,552],xr:[-1,1],yr:[-1,1],xt:p6XTicks,yt:p6YTicks,xd:1,yd:1,box:p6Box,
 halo:p6Halo,mid:p6Mid,core:p6Core,core2:p6Core2,blue:p6Blue,red:p6Red,mag:p6Mag,green:p6Green,cyan:p6Cyan,light:p6Light,yellow:p6Yellow,
 xlab:'J'+sub('\u03C6')+'/J'+sub('tot'),
 ylab:'(J'+sub('Z')+'-J'+sub('R')+')/J'+sub('tot')});
</script>
</body></html>
